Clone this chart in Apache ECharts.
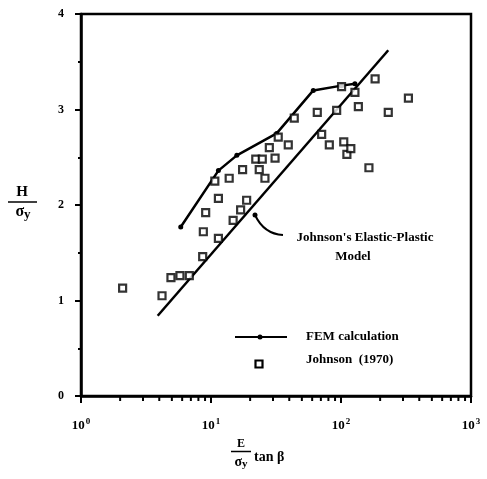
<!DOCTYPE html>
<html>
<head>
<meta charset="utf-8">
<script src="https://cdn.jsdelivr.net/npm/echarts@6/dist/echarts.min.js"></script>
<style>html,body{margin:0;padding:0;background:#fff}#c{width:487px;height:479px}</style>
</head>
<body>
<div id="c"></div>
<script>
// FEM calculation (x = E/σy·tanβ, y = H/σy)
const femX = [5.85, 11.4, 15.8, 32, 61.2, 101, 128];
const femY = [1.77, 2.36, 2.52, 2.75, 3.20, 3.25, 3.27];
// Johnson's elastic-plastic model (straight line)
const modelX = [3.89, 231];
const modelY = [0.84, 3.62];
// Johnson (1970) experimental data
const expX = [2.09, 4.2, 4.92, 5.77, 6.81, 8.63, 8.73, 9.1, 11.4, 11.4, 10.7, 13.8, 17.5, 14.8, 16.9, 18.8,
  22.1, 24.8, 23.5, 26, 28.1, 31.1, 32.9, 39.3, 43.7, 65.7, 71, 81.3, 92.6, 101, 105, 111, 119, 128, 136, 164, 183, 231, 330];
const expY = [1.13, 1.05, 1.24, 1.26, 1.26, 1.46, 1.72, 1.92, 1.65, 2.07, 2.25, 2.28, 2.37, 1.84, 1.95, 2.05,
  2.48, 2.48, 2.37, 2.28, 2.60, 2.49, 2.71, 2.63, 2.91, 2.97, 2.74, 2.63, 2.99, 3.24, 2.66, 2.53, 2.59, 3.18, 3.03, 2.39, 3.32, 2.97, 3.12];
// minor tick positions on the log x axis
const xMinorTicks = [2, 3, 4, 5, 6, 7, 8, 9, 20, 30, 40, 50, 60, 70, 80, 90, 200, 300, 400, 500, 600, 700, 800, 900];
const yTicks = [0, 1, 2, 3, 4];

const zip = (a, b) => a.map((v, i) => [v, b[i]]);
const F = 'Liberation Serif';
const chart = echarts.init(document.getElementById('c'), null, {renderer: 'canvas'});
chart.setOption({
  animation: false,
  backgroundColor: '#fff',
  grid: {left: 81, right: 16, top: 14, bottom: 83, show: true, borderColor: '#000', borderWidth: 2.5, backgroundColor: 'transparent'},
  xAxis: {
    type: 'log', logBase: 10, min: 1, max: 1000,
    axisLine: {lineStyle: {color: '#000', width: 2.5}},
    axisTick: {show: true, length: 7, lineStyle: {color: '#000', width: 2}},
    splitLine: {show: false},
    axisLabel: {
      margin: 21, color: '#000',
      formatter: v => '{b|10}{s|' + Math.round(Math.log10(v)) + '}',
      rich: {
        b: {fontFamily: F, fontWeight: 'bold', fontSize: 13, color: '#000'},
        s: {fontFamily: F, fontWeight: 'bold', fontSize: 9, color: '#000', verticalAlign: 'top', padding: [0, 0, 8, 1]}
      }
    }
  },
  yAxis: {
    type: 'value', min: 0, max: 4, interval: 1,
    axisLine: {show: true, lineStyle: {color: '#000', width: 2.5}},
    axisTick: {show: true, length: 6, lineStyle: {color: '#000', width: 2}},
    minorTick: {show: true, splitNumber: 2, length: 3, lineStyle: {color: '#000', width: 2}},
    splitLine: {show: false},
    axisLabel: {margin: 17, color: '#000', fontFamily: F, fontWeight: 'bold', fontSize: 12,
      formatter: v => yTicks.includes(v) ? String(v) : ''}
  },
  series: [
    {
      name: 'Model', type: 'line', data: zip(modelX, modelY), showSymbol: false, symbol: 'none',
      lineStyle: {color: '#000', width: 2.5}, z: 3
    },
    {
      name: 'FEM calculation', type: 'line', data: zip(femX, femY), symbol: 'circle', symbolSize: 5,
      itemStyle: {color: '#000'}, lineStyle: {color: '#000', width: 2.5}, z: 3
    },
    {
      name: 'Johnson (1970)', type: 'scatter', data: zip(expX, expY), symbol: 'rect', symbolSize: 7,
      itemStyle: {color: '#fff', borderColor: '#000', borderWidth: 2.2}, z: 4
    },
    {
      type: 'custom', silent: true, clip: false, z: 10,
      dimensions: ['x', 'y'], encode: {x: 0, y: 1},
      data: xMinorTicks.map(v => [v, 0]),
      renderItem: function (params, api) {
        const p = api.coord([api.value(0), api.value(1)]);
        return {type: 'rect', shape: {x: p[0] - 1, y: p[1], width: 2, height: 5}, style: {fill: '#000'}};
      }
    }
  ],
  graphic: [
    // y-axis title
    {type: 'text', x: 22, y: 192, style: {text: 'H', font: 'bold 15px ' + F, fill: '#000', align: 'center', verticalAlign: 'middle'}},
    {type: 'line', shape: {x1: 8, y1: 202, x2: 37, y2: 202}, style: {stroke: '#000', lineWidth: 1.5}},
    {type: 'text', x: 23, y: 212, style: {text: '{a|σ}{b|y}', rich: {a: {font: 'bold 16px ' + F, fill: '#000'}, b: {font: 'bold 13px ' + F, fill: '#000', padding: [6, 0, 0, 0]}}, align: 'center', verticalAlign: 'middle'}},
    // x-axis title
    {type: 'text', x: 241, y: 444, style: {text: 'E', font: 'bold 12px ' + F, fill: '#000', align: 'center', verticalAlign: 'middle'}},
    {type: 'line', shape: {x1: 231, y1: 451.5, x2: 251, y2: 451.5}, style: {stroke: '#000', lineWidth: 1.5}},
    {type: 'text', x: 241, y: 462, style: {text: '{a|σ}{b|y}', rich: {a: {font: 'bold 14px ' + F, fill: '#000'}, b: {font: 'bold 11px ' + F, fill: '#000', padding: [5, 0, 0, 0]}}, align: 'center', verticalAlign: 'middle'}},
    {type: 'text', x: 254, y: 457, style: {text: 'tan β', font: 'bold 14px ' + F, fill: '#000', align: 'left', verticalAlign: 'middle'}},
    // annotation
    {type: 'circle', shape: {cx: 255, cy: 215, r: 2.5}, style: {fill: '#000'}},
    {type: 'bezierCurve', shape: {x1: 255, y1: 215, cpx1: 264, cpy1: 234, x2: 283, y2: 235}, style: {stroke: '#000', lineWidth: 2, fill: null}},
    {type: 'text', x: 365, y: 238, style: {text: "Johnson's Elastic-Plastic", font: 'bold 13px ' + F, fill: '#000', align: 'center', verticalAlign: 'middle'}},
    {type: 'text', x: 353, y: 257, style: {text: 'Model', font: 'bold 13px ' + F, fill: '#000', align: 'center', verticalAlign: 'middle'}},
    // legend
    {type: 'line', shape: {x1: 235, y1: 337, x2: 287, y2: 337}, style: {stroke: '#000', lineWidth: 2}},
    {type: 'circle', shape: {cx: 260, cy: 337, r: 2.5}, style: {fill: '#000'}},
    {type: 'text', x: 306, y: 337, style: {text: 'FEM calculation', font: 'bold 13px ' + F, fill: '#000', align: 'left', verticalAlign: 'middle'}},
    {type: 'rect', shape: {x: 255.5, y: 360.5, width: 7, height: 7}, style: {fill: '#fff', stroke: '#000', lineWidth: 2.2}},
    {type: 'text', x: 306, y: 360, style: {text: 'Johnson  (1970)', font: 'bold 13px ' + F, fill: '#000', align: 'left', verticalAlign: 'middle'}}
  ]
});
</script>
</body>
</html>
